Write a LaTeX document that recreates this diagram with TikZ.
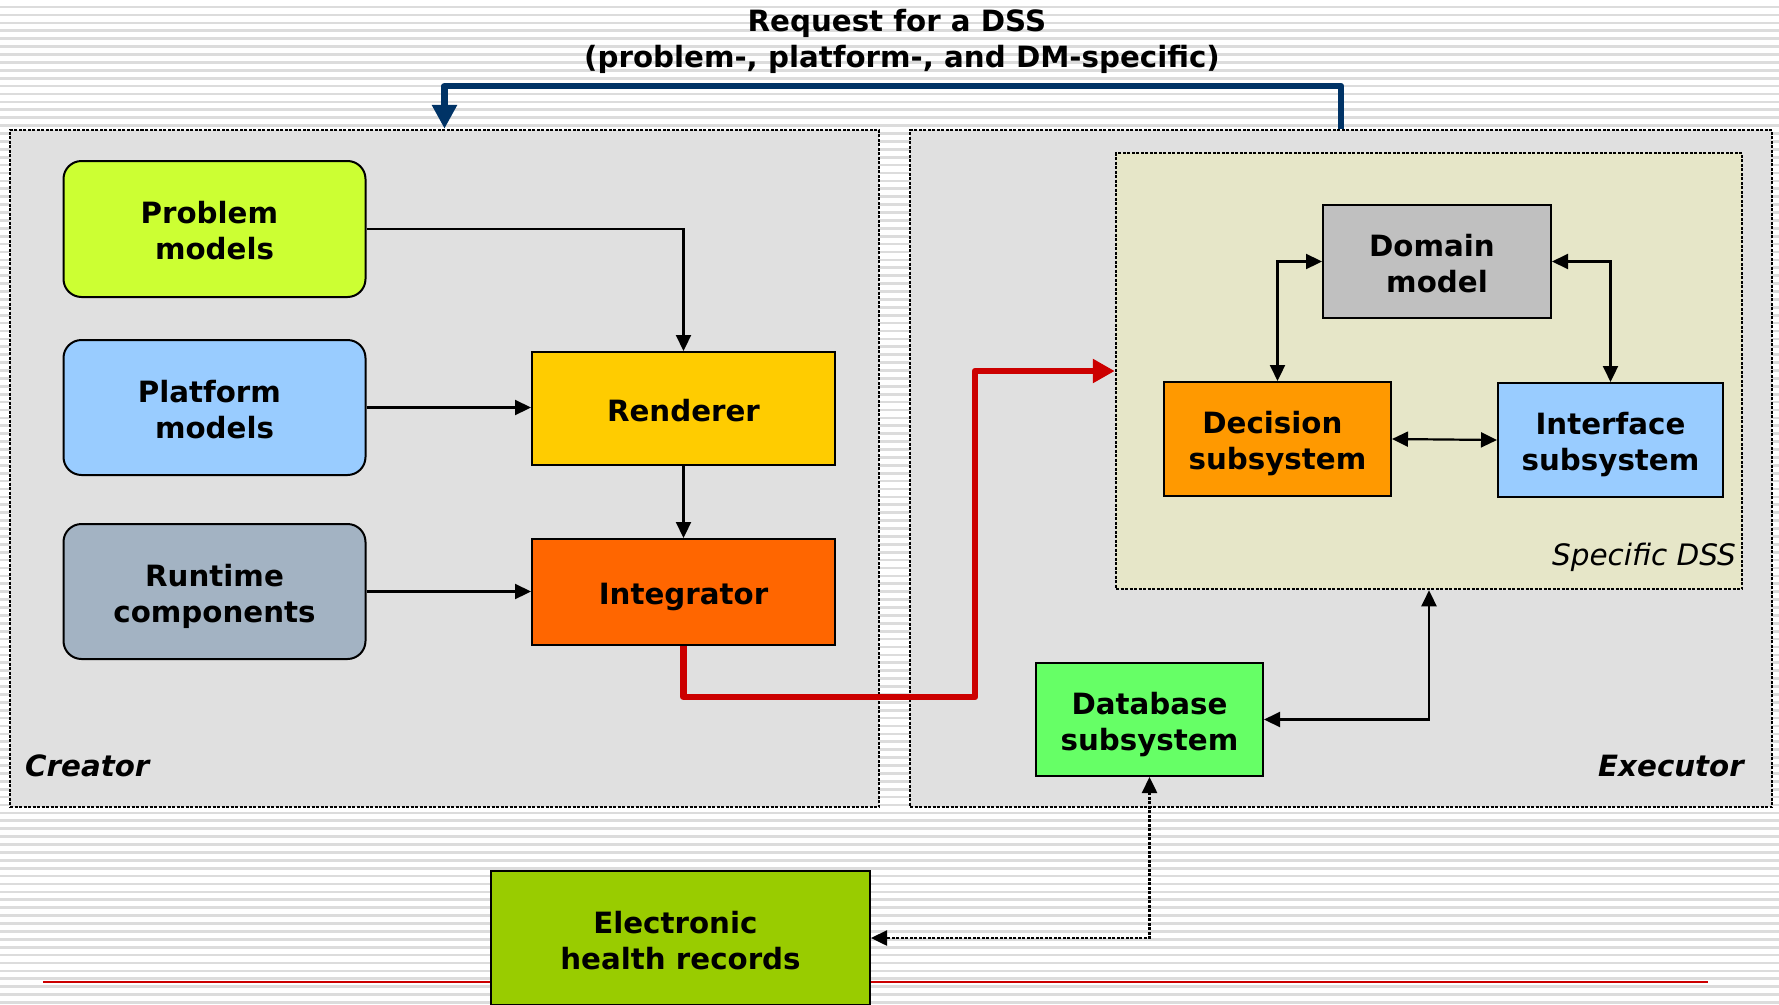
\documentclass[tikz,border=0pt]{standalone}
\usepackage{fontspec}
\setmainfont{DejaVu Sans}
\usetikzlibrary{arrows.meta}
\definecolor{stripegray}{HTML}{DCDCDC}
\definecolor{panelgray}{HTML}{E0E0E0}
\definecolor{dssfill}{HTML}{E6E6C8}
\definecolor{cprob}{HTML}{CCFF33}
\definecolor{cplat}{HTML}{99CCFF}
\definecolor{crun}{HTML}{A3B3C3}
\definecolor{crend}{HTML}{FFCC00}
\definecolor{cinteg}{HTML}{FF6600}
\definecolor{cdom}{HTML}{C0C0C0}
\definecolor{cdec}{HTML}{FF9900}
\definecolor{cint}{HTML}{99CCFF}
\definecolor{cdb}{HTML}{66FF66}
\definecolor{cehr}{HTML}{99CC00}
\definecolor{navy}{HTML}{003366}
\definecolor{redline}{HTML}{CC0000}
\newcommand\bxfont{\bfseries\fontsize{29.3}{36}\selectfont}
\newcommand\bs{\rule[-2pt]{0pt}{33.5pt}}
\newcommand\bt{\rule[-2pt]{0pt}{29.5pt}}
\newcommand\tsp{\kern.35em}
\begin{document}
\begin{tikzpicture}[x=1pt,y=-1pt,
  panel/.style={draw=black, line width=2.5pt, dash pattern=on 3pt off 1.5pt, inner sep=0pt},
  box/.style={draw=black, line width=2pt, inner sep=0pt, align=center, font=\bxfont},
  rbox/.style={box, rounded corners=18pt},
  conn/.style={line width=2.2pt, -{Triangle[length=16pt,width=15pt]}},
  biconn/.style={line width=2.2pt, {Triangle[length=16pt,width=15pt]}-{Triangle[length=16pt,width=15pt]}},
  lbl/.style={inner sep=0pt, font=\bxfont}
]
\useasboundingbox (0,0) rectangle (1779,1004);
\clip (0,0) rectangle (1779,1004);
% background stripes
\foreach \i in {0,...,127} {
  \fill[stripegray] (0,5.7+7.9*\i) rectangle (1779,8.4+7.9*\i);
}
% thin red line
\draw[redline, line width=1.3pt] (43,982) -- (1708,982);

% panels
\node[panel, fill=panelgray, minimum width=869pt, minimum height=677pt] (creat) at (444.5,468.5) {};
\node[panel, fill=panelgray, minimum width=862pt, minimum height=677pt] (exec) at (1341,468.5) {};
\node[panel, fill=dssfill, minimum width=626pt, minimum height=436pt] (dss) at (1429,371) {};

% labels
\node[lbl, anchor=west, font=\bfseries\itshape\fontsize{29.3}{36}\selectfont] (lcreat) at (25,766) {Creator};
\node[lbl, anchor=east, font=\bfseries\itshape\fontsize{29.3}{36}\selectfont] (lexec) at (1744,766) {Executor};
\node[lbl, anchor=east, font=\itshape\fontsize{29.5}{36}\selectfont] (ldss) at (1736,557) {Specific DSS};
\node[lbl, align=center] (title) at (902,41.5) {Request for a DSS\tsp\\(problem-, platform-, and DM-specific)};

% creator boxes
\node[rbox, fill=cprob, minimum width=302pt, minimum height=136pt] (prob) at (214.5,229) {\bt Problem\tsp\\models\bt};
\node[rbox, fill=cplat, minimum width=302pt, minimum height=135pt] (plat) at (214.5,407.5) {\bt Platform\tsp\\models\bt};
\node[rbox, fill=crun, minimum width=302pt, minimum height=135pt] (run) at (214.5,591.5) {\bs Runtime\\components\bs};
\node[box, fill=crend, minimum width=303pt, minimum height=113pt] (rend) at (683.5,408.5) {\bt Renderer\bt};
\node[box, fill=cinteg, minimum width=303pt, minimum height=106pt] (integ) at (683.5,592) {\bs Integrator\bs};

% executor boxes
\node[box, fill=cdom, minimum width=228pt, minimum height=113pt] (dom) at (1437,261.5) {\bt Domain\tsp\\model\bt};
\node[box, fill=cdec, minimum width=227pt, minimum height=114pt] (dec) at (1277.5,439) {\bs Decision\tsp\\subsystem\bs};
\node[box, fill=cint, minimum width=225pt, minimum height=114pt] (intf) at (1610.5,440) {\bs Interface\\subsystem\bs};
\node[box, fill=cdb, minimum width=227pt, minimum height=113pt] (db) at (1149.5,719.5) {\bs Database\\subsystem\bs};
\node[box, fill=cehr, minimum width=379pt, minimum height=134pt] (ehr) at (680.5,938) {\rule[-2pt]{0pt}{31.5pt}Electronic\tsp\\health records\bt};

% creator connectors
\draw[conn] (prob.east) -| (rend.north);
\draw[conn] (plat.east) -- (plat.east -| rend.west);
\draw[conn] (run.east) -- (run.east -| integ.west);
\draw[conn] (rend.south) -- (integ.north);

% executor connectors
\draw[biconn] (dom.west) -| (dec.north);
\draw[biconn] (dom.east) -| (intf.north);
\draw[biconn] (dec.east) -- (intf.west);
\draw[biconn] (db.east) -| (dss.south);
\draw[biconn, line width=2.5pt, dash pattern=on 3pt off 1.5pt] (db.south) |- (ehr.east);

% red arrow
\coordinate (rc) at (975,697);
\draw[redline, line width=6.5pt, line join=round, -{Triangle[length=22pt,width=23pt]}] (integ.south) |- (rc) |- (dss.west);

% blue arrow
\coordinate (bc) at (1341,86);
\draw[navy, line width=6.5pt, line join=round, -{Triangle[length=24pt,width=24pt]}] (exec.north) -- (bc) -| (creat.north);
\end{tikzpicture}
\end{document}
